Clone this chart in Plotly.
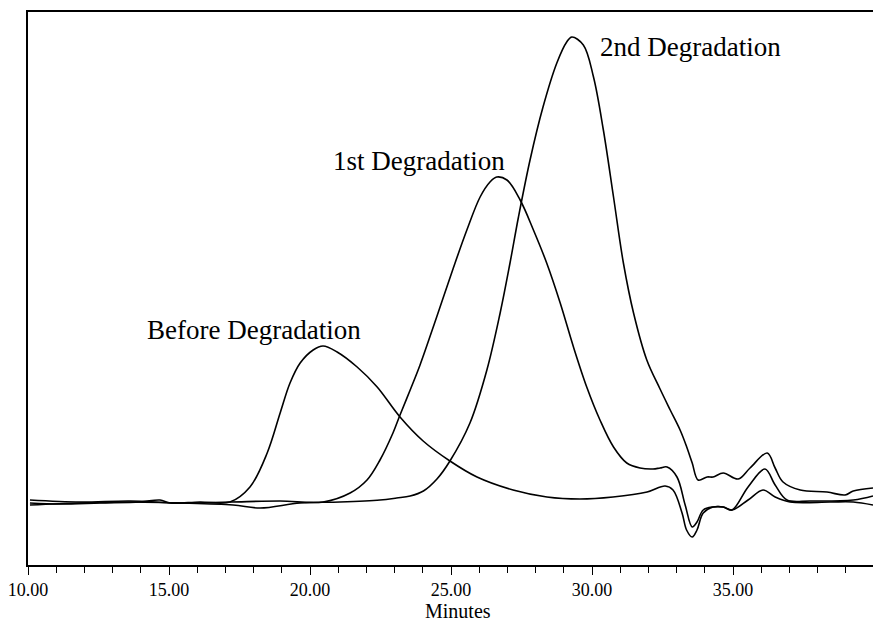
import plotly.graph_objects as go

# Retention time (minutes) and detector response (arbitrary units)
before_t = [10.07, 11.13, 12.55, 13.97, 14.68, 15.04, 16.10, 17.16, 17.87, 18.48, 18.94, 19.29,
            19.65, 20.11, 20.46, 20.96, 21.67, 22.38, 23.19, 24.01, 24.96, 25.92, 27.20, 28.40,
            29.57, 30.74, 31.95, 32.59, 32.87, 33.19, 33.35, 33.55, 33.72, 33.94, 34.29, 34.65,
            34.96, 35.53, 36.06, 36.49, 37.02, 38.44, 39.26, 39.96]
before_y = [62, 61, 62, 63, 65, 62, 63, 63, 78, 112, 152, 182,
            202, 215, 219, 213, 198, 178, 148, 124, 104, 88, 75, 68,
            66, 68, 73, 79, 75, 52, 35, 28, 35, 52, 58, 58,
            55, 65, 75, 68, 63, 63, 63, 60]

first_t = [10.07, 11.84, 13.62, 15.39, 17.16, 18.94, 20.46, 21.42, 22.02, 22.48, 22.94, 23.19,
           23.55, 23.90, 24.49, 25.08, 25.56, 26.03, 26.38, 26.62, 26.98, 27.45, 27.92, 28.39,
           28.87, 29.34, 29.81, 30.28, 30.76, 31.23, 31.70, 32.16, 32.41, 32.66, 33.01, 33.30,
           33.55, 33.72, 33.94, 34.29, 34.65, 34.96, 35.53, 36.13, 36.49, 36.91, 37.73, 39.26, 39.96]
first_y = [65, 63, 64, 62, 63, 64, 63, 72, 85, 105, 132, 150,
           175, 200, 248, 297, 335, 368, 383, 388, 385, 365, 335, 302,
           262, 218, 178, 145, 118, 102, 97, 96, 97, 98, 88, 60,
           38, 43, 55, 58, 58, 55, 78, 96, 80, 65, 64, 65, 69]

second_t = [10.07, 11.84, 13.62, 15.39, 17.27, 18.23, 19.65, 21.06, 22.48, 23.07, 23.55, 24.02,
            24.50, 24.96, 25.67, 26.27, 26.74, 27.09, 27.39, 27.80, 28.26, 28.75, 29.10, 29.28,
            29.69, 30.05, 30.40, 30.76, 31.11, 31.47, 31.94, 32.41, 32.77, 33.12, 33.33, 33.55,
            33.76, 34.08, 34.29, 34.65, 35.18, 35.60, 36.21, 36.49, 36.77, 37.38, 38.33, 38.97,
            39.26, 39.96]
second_y = [60, 62, 63, 62, 60, 57, 62, 63, 65, 67, 69, 74,
            86, 104, 142, 195, 252, 302, 348, 405, 458, 502, 523, 528,
            520, 488, 435, 368, 302, 252, 205, 176, 155, 135, 120, 102,
            85, 88, 88, 92, 86, 97, 112, 97, 83, 75, 73, 70,
            74, 77]

labels = ["Before Degradation", "1st Degradation", "2nd Degradation"]
label_x = [14.15, 20.73, 30.2]
label_y = [235, 404, 518]

tick_vals = [10, 15, 20, 25, 30, 35]
tick_text = ["10.00", "15.00", "20.00", "25.00", "30.00", "35.00"]
x_title = "Minutes"

fig = go.Figure()
for t, y in [(before_t, before_y), (first_t, first_y), (second_t, second_y)]:
    fig.add_trace(go.Scatter(x=t, y=y, mode="lines",
                             line=dict(color="black", width=1.6, shape="spline", smoothing=1.0),
                             showlegend=False, hoverinfo="skip"))

for txt, x, y in zip(labels, label_x, label_y):
    fig.add_annotation(x=x, y=y, text=txt, showarrow=False, xanchor="left", yanchor="middle",
                       font=dict(family="Liberation Serif", size=27, color="black"))

fig.add_annotation(x=0.509, y=-0.084, xref="paper", yref="paper", text=x_title,
                   showarrow=False, xanchor="center", yanchor="middle",
                   font=dict(family="Liberation Serif", size=20, color="black"))

fig.update_layout(
    width=873, height=624,
    margin=dict(l=28, r=0, t=12, b=59),
    paper_bgcolor="white", plot_bgcolor="white",
    font=dict(family="Liberation Serif", color="black"),
    xaxis=dict(range=[10, 39.96], showgrid=False, zeroline=False,
               showline=True, linecolor="black", linewidth=1.5, mirror=True,
               ticks="outside", ticklen=8, tickwidth=1.2, tickcolor="black",
               tickvals=tick_vals, ticktext=tick_text,
               tickfont=dict(family="Liberation Serif", size=18, color="black"),
               minor=dict(ticks="outside", ticklen=6, tickwidth=1.2, tickcolor="black", dtick=1)),
    yaxis=dict(range=[0, 553], showgrid=False, zeroline=False, showticklabels=False,
               showline=True, linecolor="black", linewidth=2, ticks=""),
)

fig.write_html("out.html")
